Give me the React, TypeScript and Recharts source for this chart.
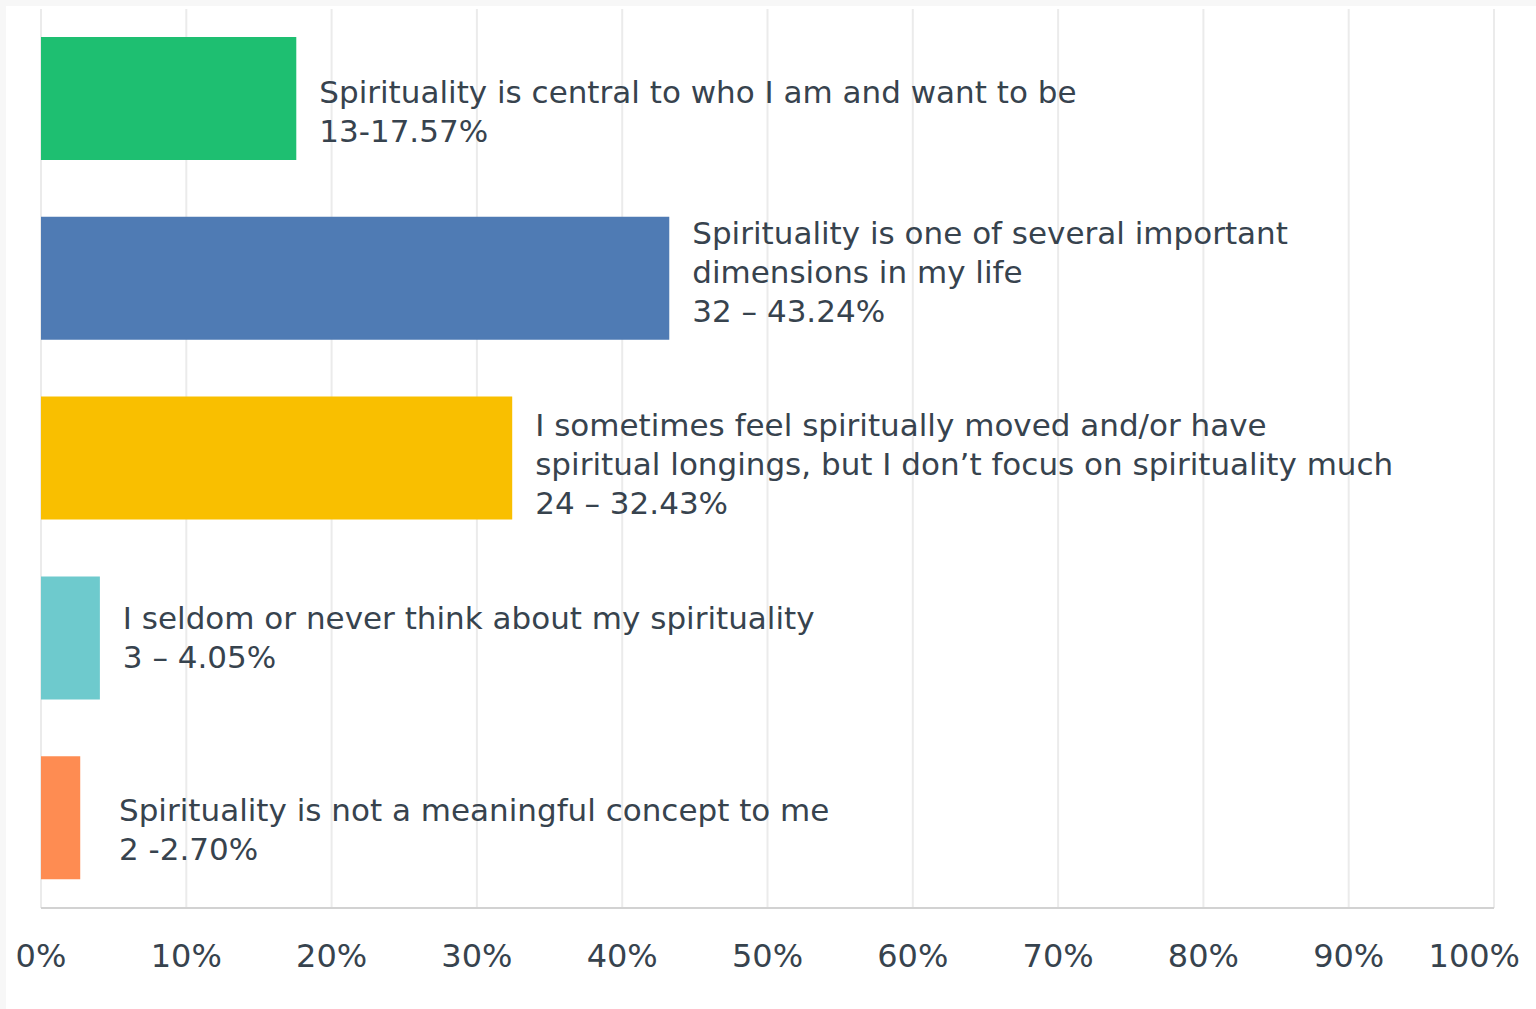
import React from "react";
import { Bar, BarChart, CartesianGrid, Cell, LabelList, XAxis, YAxis } from "recharts";

const answers = ["central", "several", "sometimes", "seldom", "not"];
const percents = [17.57, 43.24, 32.43, 4.05, 2.7];
const labelLines = [
  ["Spirituality is central to who I am and want to be"],
  ["Spirituality is one of several important", "dimensions in my life"],
  ["I sometimes feel spiritually moved and/or have", "spiritual longings, but I don\u2019t focus on spirituality much"],
  ["I seldom or never think about my spirituality"],
  ["Spirituality is not a meaningful concept to me"],
];
const valueLabels = ["13-17.57%", "32 \u2013 43.24%", "24 \u2013 32.43%", "3 \u2013 4.05%", "2 -2.70%"];
const xTicks = [0, 10, 20, 30, 40, 50, 60, 70, 80, 90, 100];

const colors = ["#1ebf71", "#4f7bb4", "#f9bf00", "#6ecacd", "#fe8c52"];
const labelNudge = [13, -6, 6, 0, 12];

const data = answers.map((a, i) => ({ answer: a, pct: percents[i] }));

const TEXT = "#37434e";
const FONT = "'DejaVu Sans', Verdana, sans-serif";

function BarLabel(props: any) {
  const { x, y, width, height, index } = props;
  const lines = [...labelLines[index], valueLabels[index]];
  const lh = 39;
  const lx = Math.max(x + width + 23, 119);
  const cy = y + height / 2 + labelNudge[index];
  const top = cy - ((lines.length - 1) * lh) / 2;
  return (
    <text x={lx} fontSize={31} fill={TEXT} fontFamily={FONT} dominantBaseline="central">
      {lines.map((l, k) => (
        <tspan key={k} x={lx} y={top + k * lh}>
          {l}
        </tspan>
      ))}
    </text>
  );
}

function XTick(props: any) {
  const { x, y, payload } = props;
  const last = payload.value === 100;
  return (
    <text
      x={last ? 1520 : x}
      y={y}
      dy={22}
      textAnchor={last ? "end" : "middle"}
      fontSize={32}
      fill={TEXT}
      fontFamily={FONT}
    >
      {payload.value}%
    </text>
  );
}

export default function App() {
  return (
    <div style={{ position: "absolute", left: 0, top: 0, width: 1536, height: 1009, background: "#f7f7f7" }}>
      <div style={{ position: "absolute", left: 6, top: 6, right: 0, bottom: 0, background: "#fff" }} />
      <div style={{ position: "absolute", left: 0, top: 0 }}>
        <BarChart
          width={1536}
          height={1009}
          data={data}
          layout="vertical"
          margin={{ top: 9, right: 42, left: 41, bottom: 71 }}
        >
          <CartesianGrid horizontal={false} stroke="#ebebeb" strokeWidth={2} />
          <XAxis
            type="number"
            domain={[0, 100]}
            ticks={xTicks}
            tickLine={false}
            tickSize={0}
            tickMargin={37}
            stroke="#d2d2d2"
            strokeWidth={2}
            tick={<XTick />}
            interval={0}
          />
          <YAxis type="category" dataKey="answer" width={0} tick={false} tickLine={false} stroke="#cfcfcf" strokeWidth={2} />
          <Bar dataKey="pct" barSize={123} isAnimationActive={false}>
            {data.map((d, i) => (
              <Cell key={d.answer} fill={colors[i]} />
            ))}
            <LabelList dataKey="pct" content={<BarLabel />} />
          </Bar>
        </BarChart>
      </div>
    </div>
  );
}
